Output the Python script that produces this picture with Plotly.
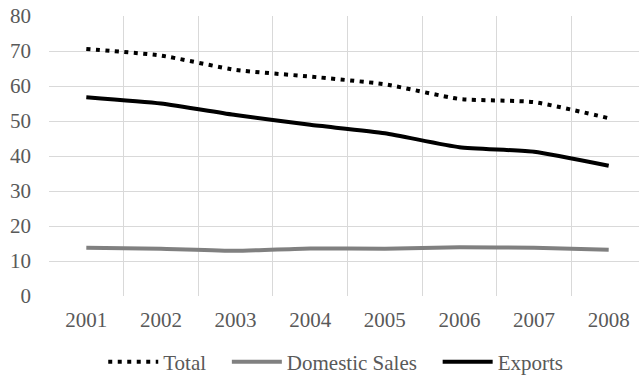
import plotly.graph_objects as go

years = ["2001", "2002", "2003", "2004", "2005", "2006", "2007", "2008"]
total = [70.6, 68.7, 64.6, 62.7, 60.5, 56.3, 55.4, 50.8]
domestic = [13.8, 13.5, 12.9, 13.6, 13.5, 13.9, 13.8, 13.2]
exports = [56.8, 55.0, 51.7, 48.9, 46.5, 42.5, 41.2, 37.2]
y_ticks = [0, 10, 20, 30, 40, 50, 60, 70, 80]
series_names = ["Total", "Domestic Sales", "Exports"]

xpos = list(range(1, len(years) + 1))
grid = "#d9d9d9"
txt = "#595959"
font_family = "Liberation Serif, Times New Roman, serif"
pad = "\u00a0" * 3

fig = go.Figure()
fig.add_trace(go.Scatter(x=xpos, y=total, name=series_names[0] + pad, mode="lines",
                         line=dict(color="black", width=4, dash="4px,5.5px", shape="spline", smoothing=0.5)))
fig.add_trace(go.Scatter(x=xpos, y=domestic, name=series_names[1] + pad, mode="lines",
                         line=dict(color="#808080", width=4, shape="spline", smoothing=0.5)))
fig.add_trace(go.Scatter(x=xpos, y=exports, name=series_names[2], mode="lines",
                         line=dict(color="black", width=4, shape="spline", smoothing=0.5)))

fig.update_layout(
    width=639, height=377,
    margin=dict(l=49, r=0, t=16, b=81, autoexpand=False),
    paper_bgcolor="white", plot_bgcolor="white",
    font=dict(family=font_family, color=txt, size=21),
    showlegend=True,
    legend=dict(orientation="h", x=0.486, xanchor="center", y=-0.236, yanchor="middle",
                font=dict(size=21, color=txt, family=font_family), itemwidth=50,
                traceorder="normal"),
    xaxis=dict(range=[0.5, 8.406], tickmode="array", tickvals=xpos, ticktext=years,
               showgrid=False, zeroline=False, showline=False, ticks="",
               ticklabelstandoff=9, tickfont=dict(family=font_family, size=21, color=txt),
               minor=dict(tickmode="array", tickvals=[i + 0.5 for i in range(0, 9)],
                          showgrid=True, gridcolor=grid, gridwidth=1, ticks="")),
    yaxis=dict(range=[0, 80], tickmode="array", tickvals=y_ticks,
               showgrid=True, gridcolor=grid, gridwidth=1, zeroline=False,
               showline=False, ticks="", ticklabelstandoff=17,
               tickfont=dict(family=font_family, size=21, color=txt)),
)

fig.write_html("out.html")
